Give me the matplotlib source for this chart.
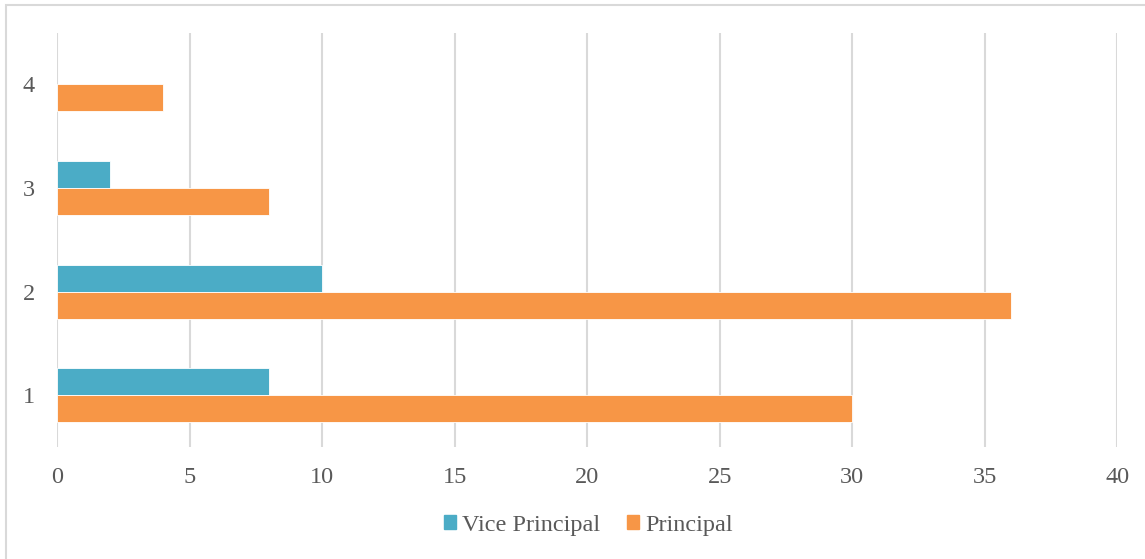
import matplotlib.pyplot as plt
import numpy as np
from matplotlib.patches import Patch, Rectangle

categories = ["1", "2", "3", "4"]
vice_principal = [8, 10, 2, 0]
principal = [30, 36, 8, 4]

plt.rcParams['font.family'] = ['Liberation Serif', 'DejaVu Serif']
text_color = "#595959"
grid_color = "#D9D9D9"
vp_color = "#4BACC6"
p_color = "#F79646"

fig = plt.figure(figsize=(11.45, 5.59), dpi=100)
ax = fig.add_axes([0.0498, 0.2002, 0.926, 0.7413])

y = np.arange(1, len(categories) + 1)
h = 0.26
# no edge on empty bars so the zero gridline stays intact
vp_lw = [0.6 if v else 0 for v in vice_principal]
p_lw = [0.6 if v else 0 for v in principal]
ax.barh(y + h / 2, vice_principal, height=h, color=vp_color, edgecolor="white", linewidth=vp_lw, zorder=3)
ax.barh(y - h / 2, principal, height=h, color=p_color, edgecolor="white", linewidth=p_lw, zorder=3)

ax.set_xlim(0, 40)
ax.set_ylim(0.5, 4.5)
ax.set_xticks(range(0, 41, 5))
ax.set_yticks(y)
ax.set_yticklabels(categories)
ax.tick_params(axis="both", length=0, labelsize=17.5, colors=text_color)
ax.tick_params(axis="x", pad=14)
ax.tick_params(axis="y", pad=16)
ax.grid(axis="x", color=grid_color, linewidth=1.5, zorder=0)
for s in ax.spines.values():
    s.set_visible(False)

handles = [Patch(color=vp_color, label="Vice Principal"), Patch(color=p_color, label="Principal")]
leg = fig.legend(handles=handles, loc="center", bbox_to_anchor=(0.514, 1 - 525 / 559), ncol=2,
                 frameon=False, fontsize=17.5, handlelength=0.5, handleheight=0.5,
                 handletextpad=0.25, columnspacing=1.1, labelcolor=text_color)

# outer chart border
fig.patches.append(Rectangle((6 / 1145, -0.1), 1.2, 1 - 5 / 559 + 0.1, transform=fig.transFigure,
                             fill=False, edgecolor="#D9D9D9", linewidth=1.5))

fig.savefig("out.png", dpi=100)
